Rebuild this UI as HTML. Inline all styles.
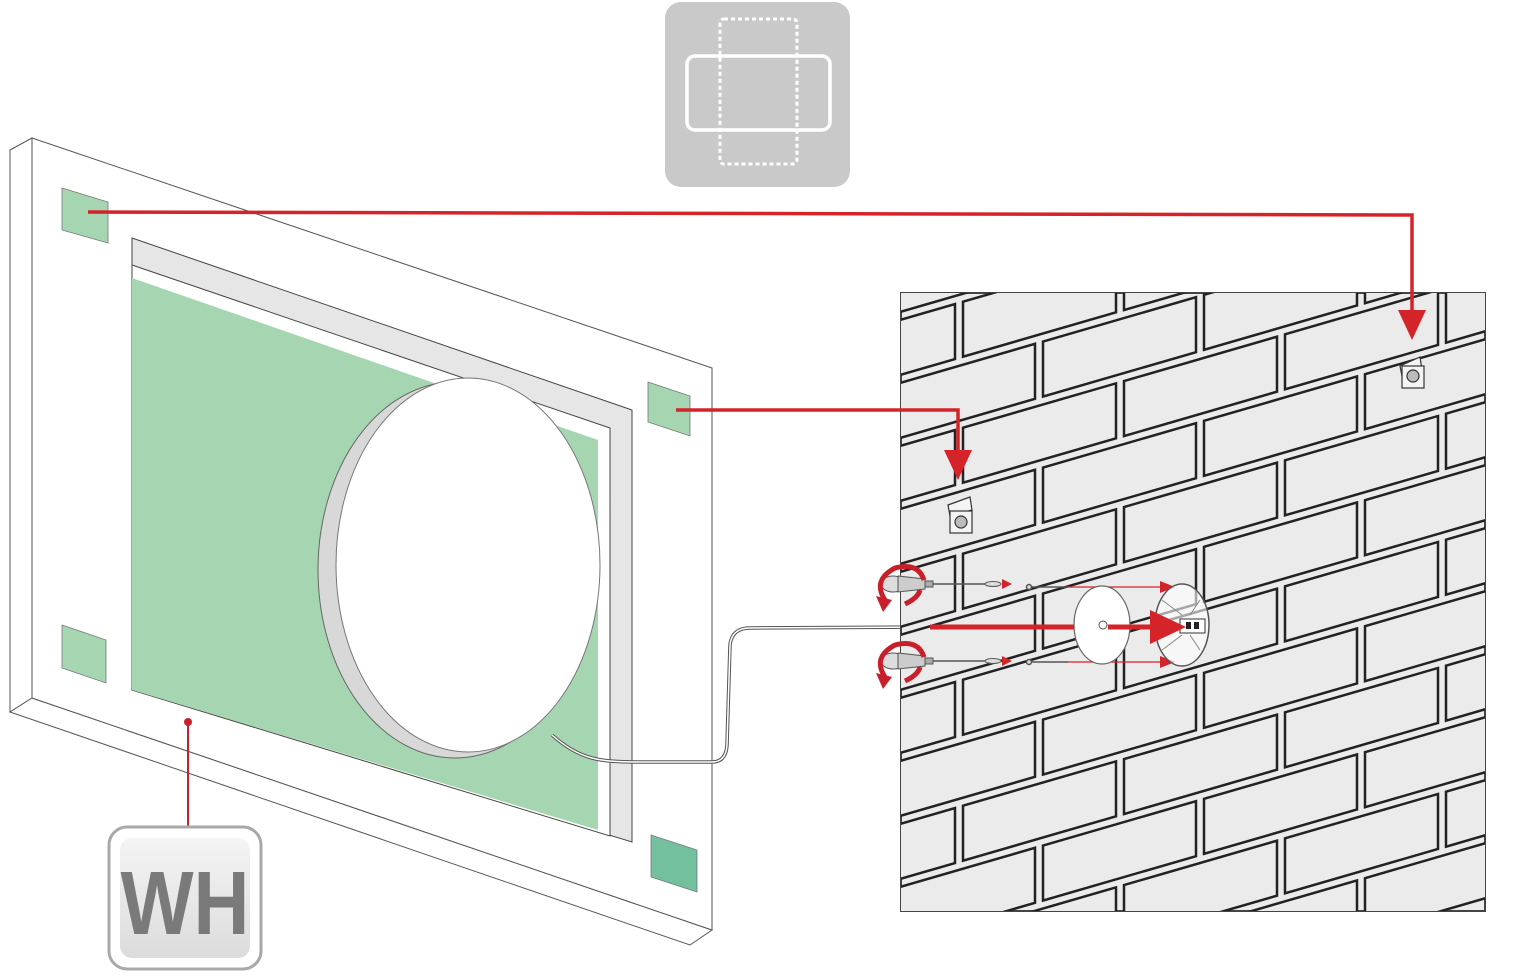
<!DOCTYPE html>
<html><head><meta charset="utf-8"><style>
html,body{margin:0;padding:0;background:#fff;width:1540px;height:980px;overflow:hidden;}
svg{display:block;}
</style></head><body>
<svg id="s" width="1540" height="980" viewBox="0 0 1540 980" xmlns="http://www.w3.org/2000/svg">
<defs>
<clipPath id="wc"><rect x="901" y="293" width="584" height="618"/></clipPath>
<linearGradient id="wg" x1="0" y1="0" x2="0" y2="1"><stop offset="0" stop-color="#f4f4f4"/><stop offset="1" stop-color="#dcdcdc"/></linearGradient>
</defs>
<!-- top icon -->
<rect x="665" y="2" width="185" height="185" rx="16" fill="#c9c9c9"/>
<rect x="720" y="19" width="77" height="145" rx="4" fill="none" stroke="#fff" stroke-width="3" stroke-dasharray="4 3"/>
<rect x="687" y="56" width="143" height="74" rx="8" fill="none" stroke="#fff" stroke-width="3.5"/>

<!-- panel -->
<polygon points="10,150 32,138 32,698 10,712" fill="#fff" stroke="#555" stroke-width="1"/>
<polygon points="10,712 32,698 712,930 690,945" fill="#fff" stroke="#555" stroke-width="1"/>
<polygon points="32,138 712,368 712,930 32,698" fill="#fff" stroke="#555" stroke-width="1"/>
<polygon points="132,238 632,410 632,842 132,690" fill="#e6e6e6" stroke="#444" stroke-width="1"/>
<polygon points="132,265 610,428 610,836 132,690" fill="#fff" stroke="#444" stroke-width="1"/>
<polygon points="132,278 598,440 598,830 132,690" fill="#a6d5b1"/>
<ellipse cx="455" cy="570" rx="137" ry="188" fill="#d8d8d8" stroke="#666" stroke-width="1"/>
<ellipse cx="468" cy="565" rx="132" ry="187" fill="#fff" stroke="#777" stroke-width="1"/>
<polygon points="62,188 108,202 108,243 62,230" fill="#a6d5b1" stroke="#777" stroke-width="0.8"/>
<polygon points="648,382 690,396 690,436 648,422" fill="#a6d5b1" stroke="#777" stroke-width="0.8"/>
<polygon points="62,625 106,640 106,683 62,668" fill="#a6d5b1" stroke="#777" stroke-width="0.8"/>
<polygon points="651,835 697,850 697,892 651,877" fill="#72c09e" stroke="#777" stroke-width="0.8"/>

<!-- cable -->
<path d="M552,735 C580,760 600,762 640,762 L712,762 Q726,762 727,745 L730,645 Q732,628 750,628 L930,627" fill="none" stroke="#555" stroke-width="3.5"/>
<path d="M552,735 C580,760 600,762 640,762 L712,762 Q726,762 727,745 L730,645 Q732,628 750,628 L930,627" fill="none" stroke="#fff" stroke-width="1.5"/>

<!-- wall -->
<rect x="901" y="293" width="584" height="618" fill="#ebebeb" stroke="#444" stroke-width="2"/>
<g id="bricks" clip-path="url(#wc)" fill="#ebebeb" stroke="#222" stroke-width="2.5"></g>

<!-- WH label -->
<line x1="188" y1="722" x2="188" y2="826" stroke="#c8202a" stroke-width="2"/>
<circle cx="188" cy="722" r="4" fill="#c8202a"/>
<rect x="109" y="827" width="152" height="142" rx="18" fill="#fff" stroke="#a8a8a8" stroke-width="3"/>
<rect x="120" y="838" width="130" height="120" rx="12" fill="url(#wg)"/>
<text x="185" y="934" text-anchor="middle" font-family="Liberation Sans, sans-serif" font-weight="bold" font-size="90" fill="#7a7a7a" transform="translate(185 0) scale(0.86 1) translate(-185 0)">WH</text>

<!-- red connectors -->
<polyline points="88,212 1412,215 1412,315" fill="none" stroke="#d5232a" stroke-width="3.5"/>
<polygon points="1398,310 1426,310 1412,340" fill="#d5232a"/>
<polyline points="676,410 958,410 958,455" fill="none" stroke="#d5232a" stroke-width="3.5"/>
<polygon points="944,450 972,450 958,480" fill="#d5232a"/>

<!-- brackets -->
<g stroke="#333" stroke-width="1.2" fill="#f4f4f4">
<polygon points="948,505 970,497 972,510 950,516"/>
<rect x="950" y="511" width="22" height="22"/>
<circle cx="961" cy="522" r="6" fill="#bbb"/>
<polygon points="1400,366 1420,357 1422,370 1402,376"/>
<rect x="1402" y="366" width="22" height="22"/>
<circle cx="1413" cy="376" r="6" fill="#bbb"/>
</g>

<!-- screwdrivers -->
<g>
<g id="sd1">
<ellipse cx="893" cy="584" rx="12" ry="8" fill="#ddd" stroke="#555"/>
<path d="M898,576 L925,579 L925,589 L898,592 Z" fill="#ccc" stroke="#555"/>
<rect x="925" y="581" width="8" height="6" fill="#aaa" stroke="#555"/>
<line x1="933" y1="584" x2="985" y2="584" stroke="#555" stroke-width="1.5"/>
<ellipse cx="993" cy="584" rx="8" ry="2.5" fill="#ddd" stroke="#555"/>
<polygon points="1002,579 1012,584 1002,589" fill="#d5232a"/>
<path d="M885,600 Q872,580 895,568 Q918,562 924,580" fill="none" stroke="#c8202a" stroke-width="5"/>
<polygon points="876,596 892,600 883,612" fill="#c8202a"/>
<path d="M905,604 Q918,598 920,590" fill="none" stroke="#c8202a" stroke-width="5"/>
</g>
<use href="#sd1" transform="translate(0,77)"/>
</g>
<!-- screws -->
<g stroke="#555" stroke-width="1.5" fill="#ddd">
<line x1="1030" y1="587" x2="1068" y2="587"/><circle cx="1029" cy="587" r="2.5"/>
<line x1="1030" y1="662" x2="1068" y2="662"/><circle cx="1029" cy="662" r="2.5"/>
</g>
<!-- thin red arrows -->
<g stroke="#d5232a" stroke-width="1.2">
<line x1="1068" y1="587" x2="1165" y2="587"/>
<line x1="1068" y1="662" x2="1165" y2="662"/>
</g>
<polygon points="1160,581 1175,587 1160,593" fill="#d5232a"/>
<polygon points="1160,656 1175,662 1160,668" fill="#d5232a"/>
<!-- disc and ring -->
<ellipse cx="1102" cy="625" rx="28" ry="39" fill="#fff" stroke="#666" stroke-width="1.2"/>
<circle cx="1103" cy="625" r="4" fill="#fff" stroke="#555"/>
<ellipse cx="1182" cy="625" rx="27" ry="41" fill="#fff" fill-opacity="0.6" stroke="#555" stroke-width="1.5"/>
<path d="M1162,600 L1182,615 M1200,600 L1190,615 M1162,650 L1182,635 M1200,650 L1190,635" stroke="#888" stroke-width="1"/>
<rect x="1180" y="619" width="25" height="14" fill="#fff" stroke="#333"/>
<rect x="1186" y="622" width="5" height="7" fill="#222"/><rect x="1194" y="622" width="5" height="7" fill="#222"/>
<!-- big red arrow -->
<line x1="930" y1="627" x2="1074" y2="627" stroke="#d5232a" stroke-width="5"/>
<line x1="1108" y1="627" x2="1155" y2="627" stroke="#d5232a" stroke-width="5"/>
<polygon points="1150,610 1186,627 1150,644" fill="#d5232a"/>
</svg>
<script>
(function(){
var g=document.getElementById('bricks'),s=0.29,h=55,w=153,P=161;
var out='';
for(var k=-4;k<=10;k++){
 var base=383+63*k;
 var j=(k%2===0)?1043:963;
 for(var n=-2;n<=6;n++){
  var x0=j+(n-1)*P, x1=x0+w;
  if(x1<880||x0>1500)continue;
  var y0=base-s*(x0-900), y1=base-s*(x1-900);
  out+='<polygon points="'+x0+','+y0+' '+x1+','+y1+' '+x1+','+(y1+h)+' '+x0+','+(y0+h)+'"/>';
 }
}
g.innerHTML=out;
})();
</script>
</body></html>
